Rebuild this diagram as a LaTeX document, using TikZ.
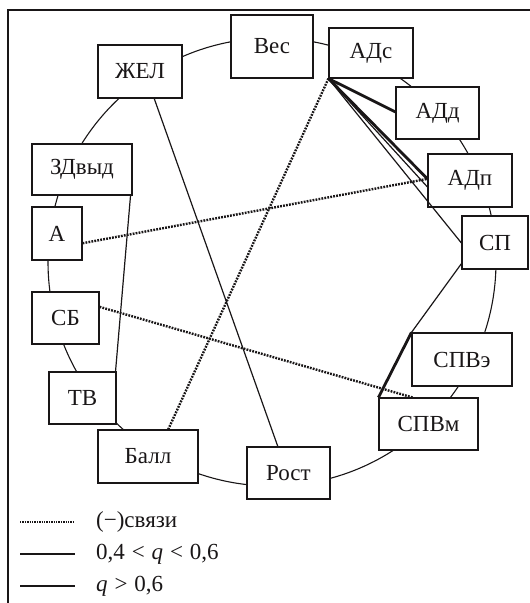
\documentclass[tikz,border=0pt]{standalone}
\usepackage{fontspec}
\setmainfont{Liberation Serif}
\usetikzlibrary{calc}
\definecolor{ink}{RGB}{25,22,23}
\tikzset{
  box/.style={draw=ink, fill=white, line width=1.1pt, inner sep=0pt, text=ink,
    font=\fontsize{23}{27}\selectfont},
  thinlink/.style={draw=ink, line width=1.2pt},
  thicklink/.style={draw=ink, line width=2.8pt},
  neglink/.style={draw=ink, line width=2.4pt, dash pattern=on 1.8pt off 1.2pt},
  legtext/.style={anchor=west, inner sep=0pt, text=ink, font=\fontsize{23}{27}\selectfont},
  ring/.style={draw=ink, line width=1.1pt},
}
\begin{document}
\begin{tikzpicture}[x=1pt,y=-1pt]
\useasboundingbox (0,0) rectangle (530,603);
\draw[ink, line width=1.1pt] (8,603) -- (8,10) -- (530,10);
\draw[ring] (272,262) circle[radius=224pt];
% nodes
\node[box, minimum width=84pt, minimum height=53pt] (zhel) at (140,71.5) {ЖЕЛ};
\node[box, minimum width=82pt, minimum height=63pt] (ves) at (272,46.5) {Вес};
\node[box, minimum width=84pt, minimum height=50pt] (ads) at (371,53) {АДс};
\node[box, minimum width=83pt, minimum height=52pt] (add) at (437.5,113) {АДд};
\node[box, minimum width=84pt, minimum height=53pt] (adp) at (470,180.5) {АДп};
\node[box, minimum width=66pt, minimum height=53pt] (sp) at (495,242.5) {СП};
\node[box, minimum width=100pt, minimum height=53pt] (spve) at (462,359.5) {СПВэ};
\node[box, minimum width=99pt, minimum height=52pt] (spvm) at (428.5,424) {СПВм};
\node[box, minimum width=83pt, minimum height=52pt] (rost) at (288.5,473) {Рост};
\node[box, minimum width=100pt, minimum height=53pt] (ball) at (148,456.5) {Балл};
\node[box, minimum width=67pt, minimum height=52pt] (tv) at (82.5,398) {ТВ};
\node[box, minimum width=67pt, minimum height=52pt] (sb) at (65.5,318) {СБ};
\node[box, minimum width=50pt, minimum height=53pt] (a) at (57,233.5) {А};
\node[box, minimum width=100pt, minimum height=51pt] (zd) at (82,169.5) {ЗДвыд};
% connectors
\draw[thinlink] ($(zhel.south west)!0.667!(zhel.south east)$) -- ($(rost.north west)!0.373!(rost.north east)$);
\draw[thinlink] ($(zd.south west)!0.98!(zd.south east)$) -- ($(tv.north west)!0.985!(tv.north east)$);
\draw[neglink] (ads.south west) -- ($(ball.north west)!0.70!(ball.north east)$);
\draw[thicklink] (ads.south west) -- ($(add.north west)!0.48!(add.south west)$);
\draw[thicklink] (ads.south west) -- ($(adp.north west)!0.47!(adp.south west)$);
\draw[thinlink] (ads.south west) -- ($(adp.north west)!0.62!(adp.south west)$);
\draw[thinlink] (ads.south west) -- ($(sp.north west)!0.51!(sp.south west)$);
\draw[neglink] ($(a.north east)!0.68!(a.south east)$) -- ($(adp.north west)!0.47!(adp.south west)$);
\draw[neglink] ($(sb.north east)!0.29!(sb.south east)$) -- ($(spvm.north west)!0.34!(spvm.north east)$);
\draw[thinlink] ($(sp.north west)!0.89!(sp.south west)$) -- (spve.north west);
\draw[thicklink] (spve.north west) -- (spvm.north west);
% legend
\coordinate (l1a) at (20,522); \coordinate (l1b) at (75,522);
\coordinate (l2a) at (20,554); \coordinate (l2b) at (75,554);
\coordinate (l3a) at (20,586); \coordinate (l3b) at (75,586);
\draw[neglink, line width=2pt, dash pattern=on 1.4pt off 1pt] (l1a) -- (l1b);
\draw[thinlink] (l2a) -- (l2b);
\draw[thicklink] (l3a) -- (l3b);
\node[legtext] (t1) at (96,522) {(−)связи};
\node[legtext] (t2) at (96,554) {0,4\hspace{0.3em}<\hspace{0.3em}\textit{q}\hspace{0.3em}<\hspace{0.3em}0,6};
\node[legtext] (t3) at (96,586) {\textit{q}\hspace{0.3em}>\hspace{0.3em}0,6};
\end{tikzpicture}
\end{document}
